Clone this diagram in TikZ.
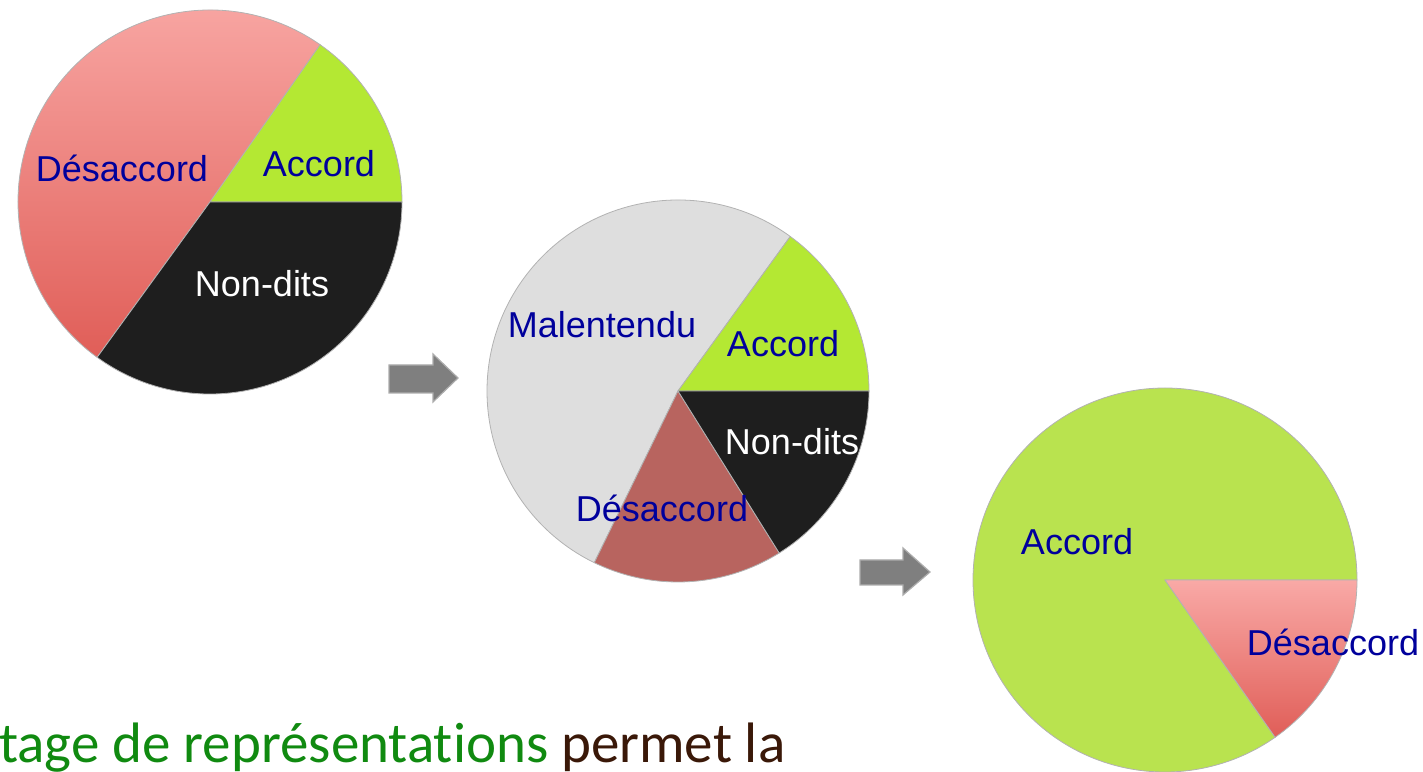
\documentclass[tikz,border=0pt]{standalone}
\usepackage{fontspec}
\setmainfont{Liberation Sans}
\newfontfamily\bodyfont[Ligatures=NoCommon]{Carlito}
\definecolor{accordA}{HTML}{B4E833}
\definecolor{accordC}{HTML}{B9E34F}
\definecolor{nondits}{HTML}{1E1E1E}
\definecolor{malentendu}{HTML}{DEDEDE}
\definecolor{desaccordB}{HTML}{B8645F}
\definecolor{pinktop}{HTML}{F9A9A6}
\definecolor{pinkbot}{HTML}{E05E58}
\definecolor{labelblue}{HTML}{00009C}
\definecolor{textgreen}{HTML}{108A10}
\definecolor{textbrown}{HTML}{3A1808}
\definecolor{arrowgray}{HTML}{7F7F7F}
\tikzset{
  wedge/.style={draw=gray!60, line width=0.8pt, line join=round},
  slicelabel/.style={anchor=base, inner sep=0pt, text=labelblue, font=\fontsize{36}{40}\selectfont},
  darklabel/.style={slicelabel, text=white},
  bigarrow/.style={fill=arrowgray, draw=gray!65, line width=1.2pt, line join=miter}
}
\begin{document}
\begin{tikzpicture}[x=1pt,y=1pt]
  \useasboundingbox (0,0) rectangle (1423,771);
  \clip (0,0) rectangle (1423,771);
  \coordinate (c1) at (210,569);
  \coordinate (c2) at (678,380);
  \coordinate (c3) at (1165,191);

  \shade[top color=pinktop, bottom color=pinkbot, draw=gray!60, line width=0.8pt]
    (c1) -- ++(55:192) arc (55:234:192) -- cycle;
  \filldraw[wedge, fill=accordA] (c1) -- ++(0:192) arc (0:55:192) -- cycle;
  \filldraw[wedge, fill=nondits] (c1) -- ++(234:192) arc (234:360:192) -- cycle;
  \node[slicelabel] (des1) at (122,589) {Désaccord};
  \node[slicelabel] (acc1) at (319,594) {Accord};
  \node[darklabel] (non1) at (262,474) {Non-dits};

  \filldraw[wedge, fill=malentendu] (c2) -- ++(54:191) arc (54:244:191) -- cycle;
  \filldraw[wedge, fill=accordA] (c2) -- ++(0:191) arc (0:54:191) -- cycle;
  \filldraw[wedge, fill=desaccordB] (c2) -- ++(244:191) arc (244:302:191) -- cycle;
  \filldraw[wedge, fill=nondits] (c2) -- ++(302:191) arc (302:360:191) -- cycle;
  \node[slicelabel] (mal2) at (602,433) {Malentendu};
  \node[slicelabel] (acc2) at (783,414) {Accord};
  \node[darklabel] (non2) at (792,316) {Non-dits};
  \node[slicelabel] (des2) at (662,249) {Désaccord};

  \filldraw[wedge, fill=accordC] (c3) -- ++(0:192) arc (0:305:192) -- cycle;
  \shade[top color=pinktop, bottom color=pinkbot, draw=gray!60, line width=0.8pt]
    (c3) -- ++(305:192) arc (305:360:192) -- cycle;
  \node[slicelabel] (acc3) at (1077,216) {Accord};
  \node[slicelabel] (des3) at (1333,116) {Désaccord};

  \path[bigarrow] (389,378) -- (433,378) -- (433,369) -- (458,393) -- (433,417)
    -- (433,406) -- (389,406) -- cycle;
  \path[bigarrow] (860,186) -- (903,186) -- (903,176) -- (930,199) -- (903,223)
    -- (903,211) -- (860,211) -- cycle;

  \node[anchor=base west, inner sep=0pt, font=\bodyfont\fontsize{57}{62}\selectfont]
    (phrase) at (-1,9) {\textcolor{textgreen}{tage de représentations} \textcolor{textbrown}{permet la}};
\end{tikzpicture}
\end{document}
